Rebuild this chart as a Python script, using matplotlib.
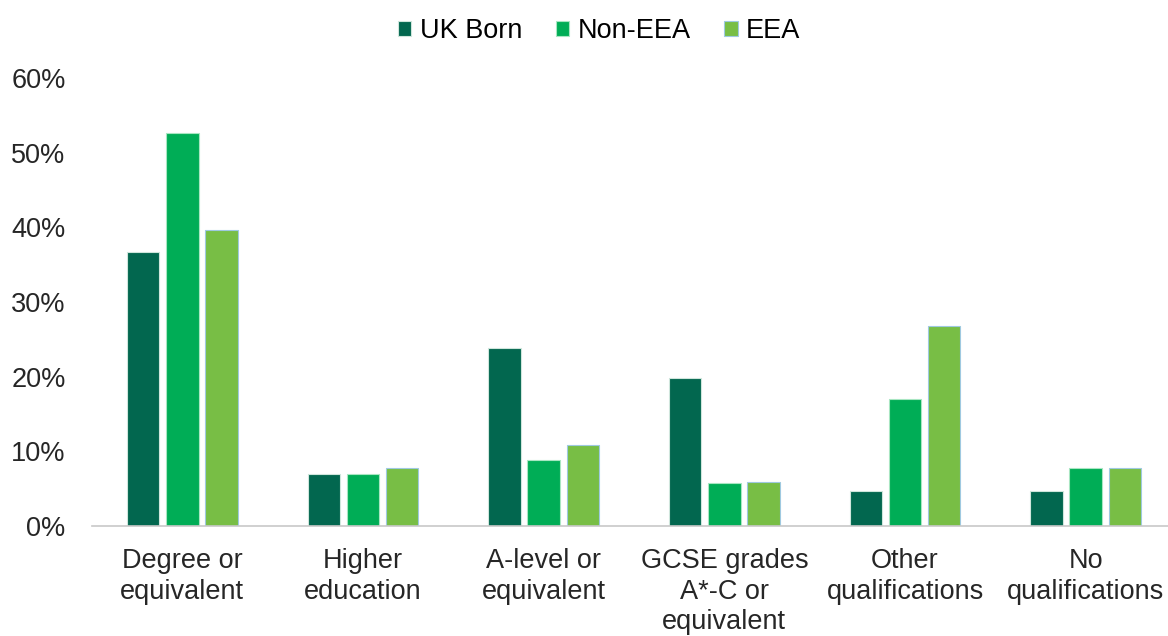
import matplotlib
matplotlib.use("Agg")
import matplotlib.pyplot as plt
import numpy as np

categories = ["Degree or\nequivalent", "Higher\neducation", "A-level or\nequivalent",
              "GCSE grades\nA*-C or\nequivalent", "Other\nqualifications", "No\nqualifications"]
series_names = ["UK Born", "Non-EEA", "EEA"]
uk_born = [36.7, 7.0, 23.8, 19.8, 4.7, 4.7]
non_eea = [52.7, 7.0, 8.9, 5.8, 17.0, 7.8]
eea = [39.7, 7.8, 10.8, 5.9, 26.8, 7.8]
yticks = [0, 10, 20, 30, 40, 50, 60]

colors = ["#02674F", "#00AD56", "#78BE45"]
edges = ["#cfe6dc", "#a8e6c2", "#9fc9e0"]

plt.rcParams['font.family'] = ['Liberation Sans', 'DejaVu Sans']
fig = plt.figure(figsize=(11.68, 6.36), dpi=100)
ax = fig.add_axes([92/1168, (636-526)/636, 1084/1168, (526-78)/636])

x = np.arange(len(categories))
w = 0.18
step = 0.217
for i, (name, vals) in enumerate(zip(series_names, [uk_born, non_eea, eea])):
    ax.bar(x + (i - 1) * step, vals, width=w, color=colors[i], edgecolor=edges[i],
           linewidth=0.8, label=name)

fs = 19.5
ax.set_xlim(-0.5, len(categories) - 0.5)
ax.set_ylim(0, 60)
ax.set_yticks(yticks)
ax.set_yticklabels([f"{t}%" for t in yticks], fontsize=fs, color="#262626")
ax.set_xticks(x)
ax.set_xticklabels(categories, fontsize=fs, color="#262626", linespacing=1.22)
ax.tick_params(axis='both', length=0)
ax.tick_params(axis='y', pad=19)
ax.tick_params(axis='x', pad=16)
for s in ["top", "right", "left"]:
    ax.spines[s].set_visible(False)
ax.spines["bottom"].set_color("#c8c8c8")
ax.spines["bottom"].set_linewidth(1.2)

fig.legend(loc="upper center", bbox_to_anchor=(0.513, 1.01), ncol=3, frameon=False,
           fontsize=fs, handlelength=0.5, handleheight=0.5, handletextpad=0.3,
           columnspacing=1.25)

fig.savefig("out.png", dpi=100)
